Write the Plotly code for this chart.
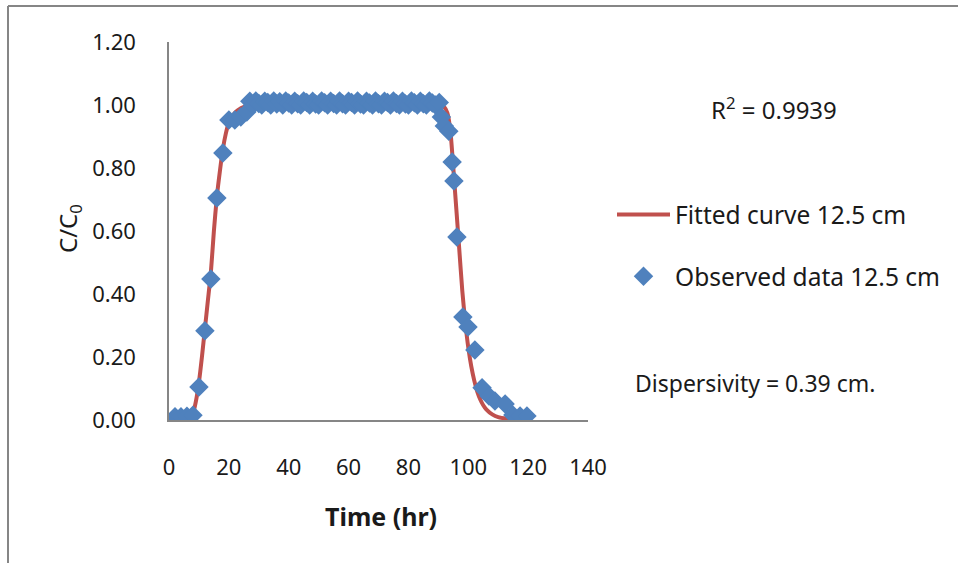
import plotly.graph_objects as go

# Observed data (time in hr, C/C0)
obs_time = [2, 4, 6, 8, 10, 12, 14, 16, 18, 20, 22, 24, 26,
            27, 28, 29, 30, 31, 32, 33, 34, 35, 36, 37, 38, 39, 40, 41, 42, 43, 44,
            45, 46, 47, 48, 49, 50, 51, 52, 53, 54, 55, 56, 57, 58, 59, 60, 61, 62,
            63, 64, 65, 66, 67, 68, 69, 70, 71, 72, 73, 74, 75, 76, 77, 78, 79, 80,
            81, 82, 83, 84, 85, 86, 87, 88, 89, 90.3,
            91, 92, 93.5, 94.6, 95.2, 96.2, 98.2, 99.9, 102.2, 104.6, 106.9,
            108.9, 112.3, 114.9, 117.3, 119.6]
obs_conc = [0.01, 0.01, 0.012, 0.015, 0.105, 0.283, 0.448, 0.705, 0.848, 0.952, 0.952, 0.962, 0.978,
            1.012, 1.0, 1.013, 1.005, 1.0, 1.012, 1.008, 1.0, 1.013, 1.003, 1.01, 1.0, 1.013, 1.006,
            1.0, 1.012, 1.004, 1.0, 1.013, 1.008, 1.0, 1.012, 1.003, 1.0, 1.013, 1.007, 1.0, 1.012,
            1.005, 1.0, 1.013, 1.004, 1.0, 1.012, 1.008, 1.0, 1.013, 1.003, 1.0, 1.012, 1.006, 1.0,
            1.013, 1.004, 1.0, 1.012, 1.008, 1.0, 1.013, 1.005, 1.0, 1.012, 1.003, 1.0, 1.013, 1.007,
            1.0, 1.012, 1.004, 1.0, 1.013, 1.006, 1.0, 1.008,
            0.962, 0.933, 0.917, 0.819, 0.759, 0.581, 0.327, 0.295, 0.222, 0.102, 0.076,
            0.06, 0.051, 0.016, 0.013, 0.013]

# Fitted curve (time in hr, C/C0)
fit_time = [0, 6, 7, 8, 9, 10, 11, 12, 13, 14, 15, 16, 17, 18, 19, 20, 22, 24, 26, 28,
            40, 60, 80, 90, 91, 92, 93, 94, 95, 96, 97, 98, 99, 100, 101, 102, 103,
            104, 105, 106, 108, 110, 113, 116, 120]
fit_conc = [0.0, 0.0, 0.004, 0.02, 0.06, 0.12, 0.2, 0.29, 0.38, 0.47, 0.6, 0.71, 0.79, 0.86, 0.91,
            0.945, 0.975, 0.99, 0.997, 1.0,
            1.0, 1.0, 1.0, 1.0, 0.998, 0.993, 0.975, 0.92, 0.8, 0.67, 0.54, 0.41, 0.31, 0.23, 0.17,
            0.125, 0.09, 0.065, 0.047, 0.034, 0.018, 0.009, 0.004, 0.001, 0.0]

x_ticks = [0, 20, 40, 60, 80, 100, 120, 140]
y_ticks = [0.0, 0.2, 0.4, 0.6, 0.8, 1.0, 1.2]

FONT = "Noto Sans"
GRAY = "#868686"
TXT = "#1a1a1a"

fig = go.Figure()
fig.add_trace(go.Scatter(
    x=fit_time, y=fit_conc, mode="lines", name="Fitted curve 12.5 cm",
    line=dict(color="#C0504D", width=4, shape="spline", smoothing=0.6),
    legendgroup="a"))
fig.add_trace(go.Scatter(
    x=obs_time, y=obs_conc, mode="markers", name="Observed data 12.5 cm",
    marker=dict(symbol="diamond", size=15, color="#4F81BD",
                line=dict(width=0)),
    legendgroup="b"))

L, R, T, B = 169, 370, 42, 143
W, H = 958, 563
pw, ph = W - L - R, H - T - B

def px(x):
    return (x - L) / pw

def py(y):
    return (H - B - y) / ph

fig.update_layout(
    width=W, height=H,
    margin=dict(l=L, r=R, t=T, b=B),
    paper_bgcolor="white", plot_bgcolor="white",
    font=dict(family=FONT, size=23, color=TXT),
    showlegend=True,
    legend=dict(x=px(612), y=py(192), xanchor="left", yanchor="top",
                font=dict(size=24.5, family=FONT, color=TXT), tracegroupgap=27,
                itemwidth=53, bgcolor="rgba(0,0,0,0)"),
    xaxis=dict(range=[0, 140], tickvals=x_ticks, ticktext=[str(v) for v in x_ticks],
               showgrid=False, zeroline=False, showline=True, linecolor=GRAY,
               linewidth=1.5, ticks="", ticklabelstandoff=27,
               tickfont=dict(size=22, color=TXT)),
    yaxis=dict(range=[0, 1.2], tickvals=y_ticks, ticktext=[f"{v:.2f}" for v in y_ticks],
               showgrid=False, zeroline=False, showline=True, linecolor=GRAY,
               linewidth=1.5, ticks="", ticklabelstandoff=27,
               tickfont=dict(size=22, color=TXT)),
)

def note(text, x, y, size=23, angle=0):
    fig.add_annotation(text=text, xref="paper", yref="paper",
                       x=px(x), y=py(y), xanchor="center", yanchor="middle",
                       showarrow=False, textangle=angle,
                       font=dict(size=size, family=FONT, color=TXT))

note("<b>Time (hr)</b>", 381, 516, size=25)
note("C/C<sub>0</sub>", 69, 229, size=24, angle=-90)
note("R<sup>2</sup> = 0.9939", 774, 108, size=24)
note("Dispersivity = 0.39 cm.", 755, 383)

# chart-area border (top and left edges visible)
fig.add_shape(type="line", xref="paper", yref="paper",
              x0=px(8), x1=px(960), y0=py(6), y1=py(6),
              line=dict(color=GRAY, width=2))
fig.add_shape(type="line", xref="paper", yref="paper",
              x0=px(8), x1=px(8), y0=py(6), y1=py(565),
              line=dict(color=GRAY, width=2))

fig.write_html("out.html")
